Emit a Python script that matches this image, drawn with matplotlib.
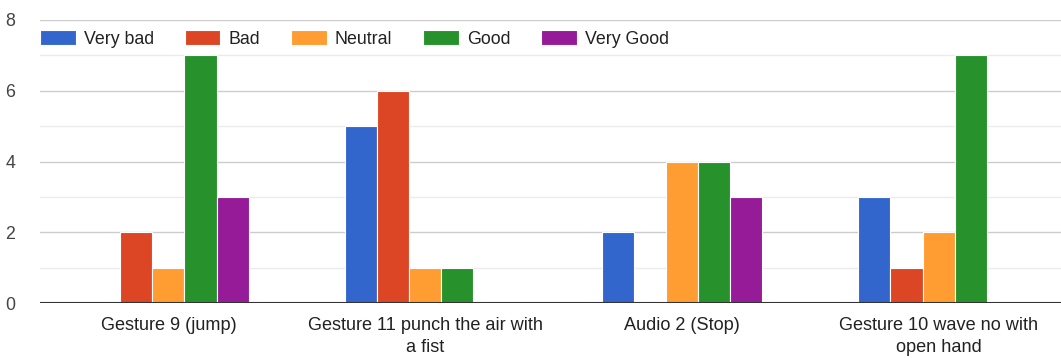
import numpy as np
import matplotlib.pyplot as plt

categories = ["Gesture 9 (jump)", "Gesture 11 punch the air with\na fist",
              "Audio 2 (Stop)", "Gesture 10 wave no with\nopen hand"]
series = ["Very bad", "Bad", "Neutral", "Good", "Very Good"]
very_bad = [0, 5, 2, 3]
bad = [2, 6, 0, 1]
neutral = [1, 1, 4, 2]
good = [7, 1, 4, 7]
very_good = [3, 0, 3, 0]
colors = ["#3366cc", "#dc4625", "#ff9d33", "#27922c", "#961b99"]

plt.rcParams['font.family'] = ['Liberation Sans', 'DejaVu Sans']

fig = plt.figure(figsize=(10.61, 3.58), dpi=100)
# plot area runs a little past the right edge of the figure
ax = fig.add_axes([40 / 1061, 55 / 358, 1027 / 1061, 283 / 358])

x = np.arange(len(categories))
width = 0.125
values = [very_bad, bad, neutral, good, very_good]
for j, (name, vals) in enumerate(zip(series, values)):
    ax.bar(x + (j - 2) * width, vals, width, color=colors[j], label=name,
           edgecolor='white', linewidth=0.8, zorder=3)

ax.set_xlim(-0.5, len(categories) - 0.5)
ax.set_ylim(0, 8)
ax.set_yticks([0, 2, 4, 6, 8])
ax.set_yticks([1, 3, 5, 7], minor=True)
ax.grid(axis='y', which='major', color='#cccccc', linewidth=1, zorder=0)
ax.grid(axis='y', which='minor', color='#ebebeb', linewidth=1, zorder=0)
ax.axhline(0, color='#333333', linewidth=1.5, zorder=4)

ax.set_xticks(x)
ax.set_xticklabels(categories, fontsize=13.1, color='#222222', linespacing=1.4)
ax.tick_params(axis='x', length=0, pad=10)
ax.tick_params(axis='y', which='both', length=0, pad=18, labelsize=12.8, labelcolor='#444444')

for s in ax.spines.values():
    s.set_visible(False)

fig.legend(loc='center left', bbox_to_anchor=(40 / 1061, 1 - 39 / 358), ncol=5,
           frameon=False, fontsize=12.8, handlelength=2.0, handleheight=0.9,
           handletextpad=0.45, columnspacing=1.75, borderpad=0, borderaxespad=0,
           labelcolor='#222222')

fig.savefig("out.png", dpi=100)
